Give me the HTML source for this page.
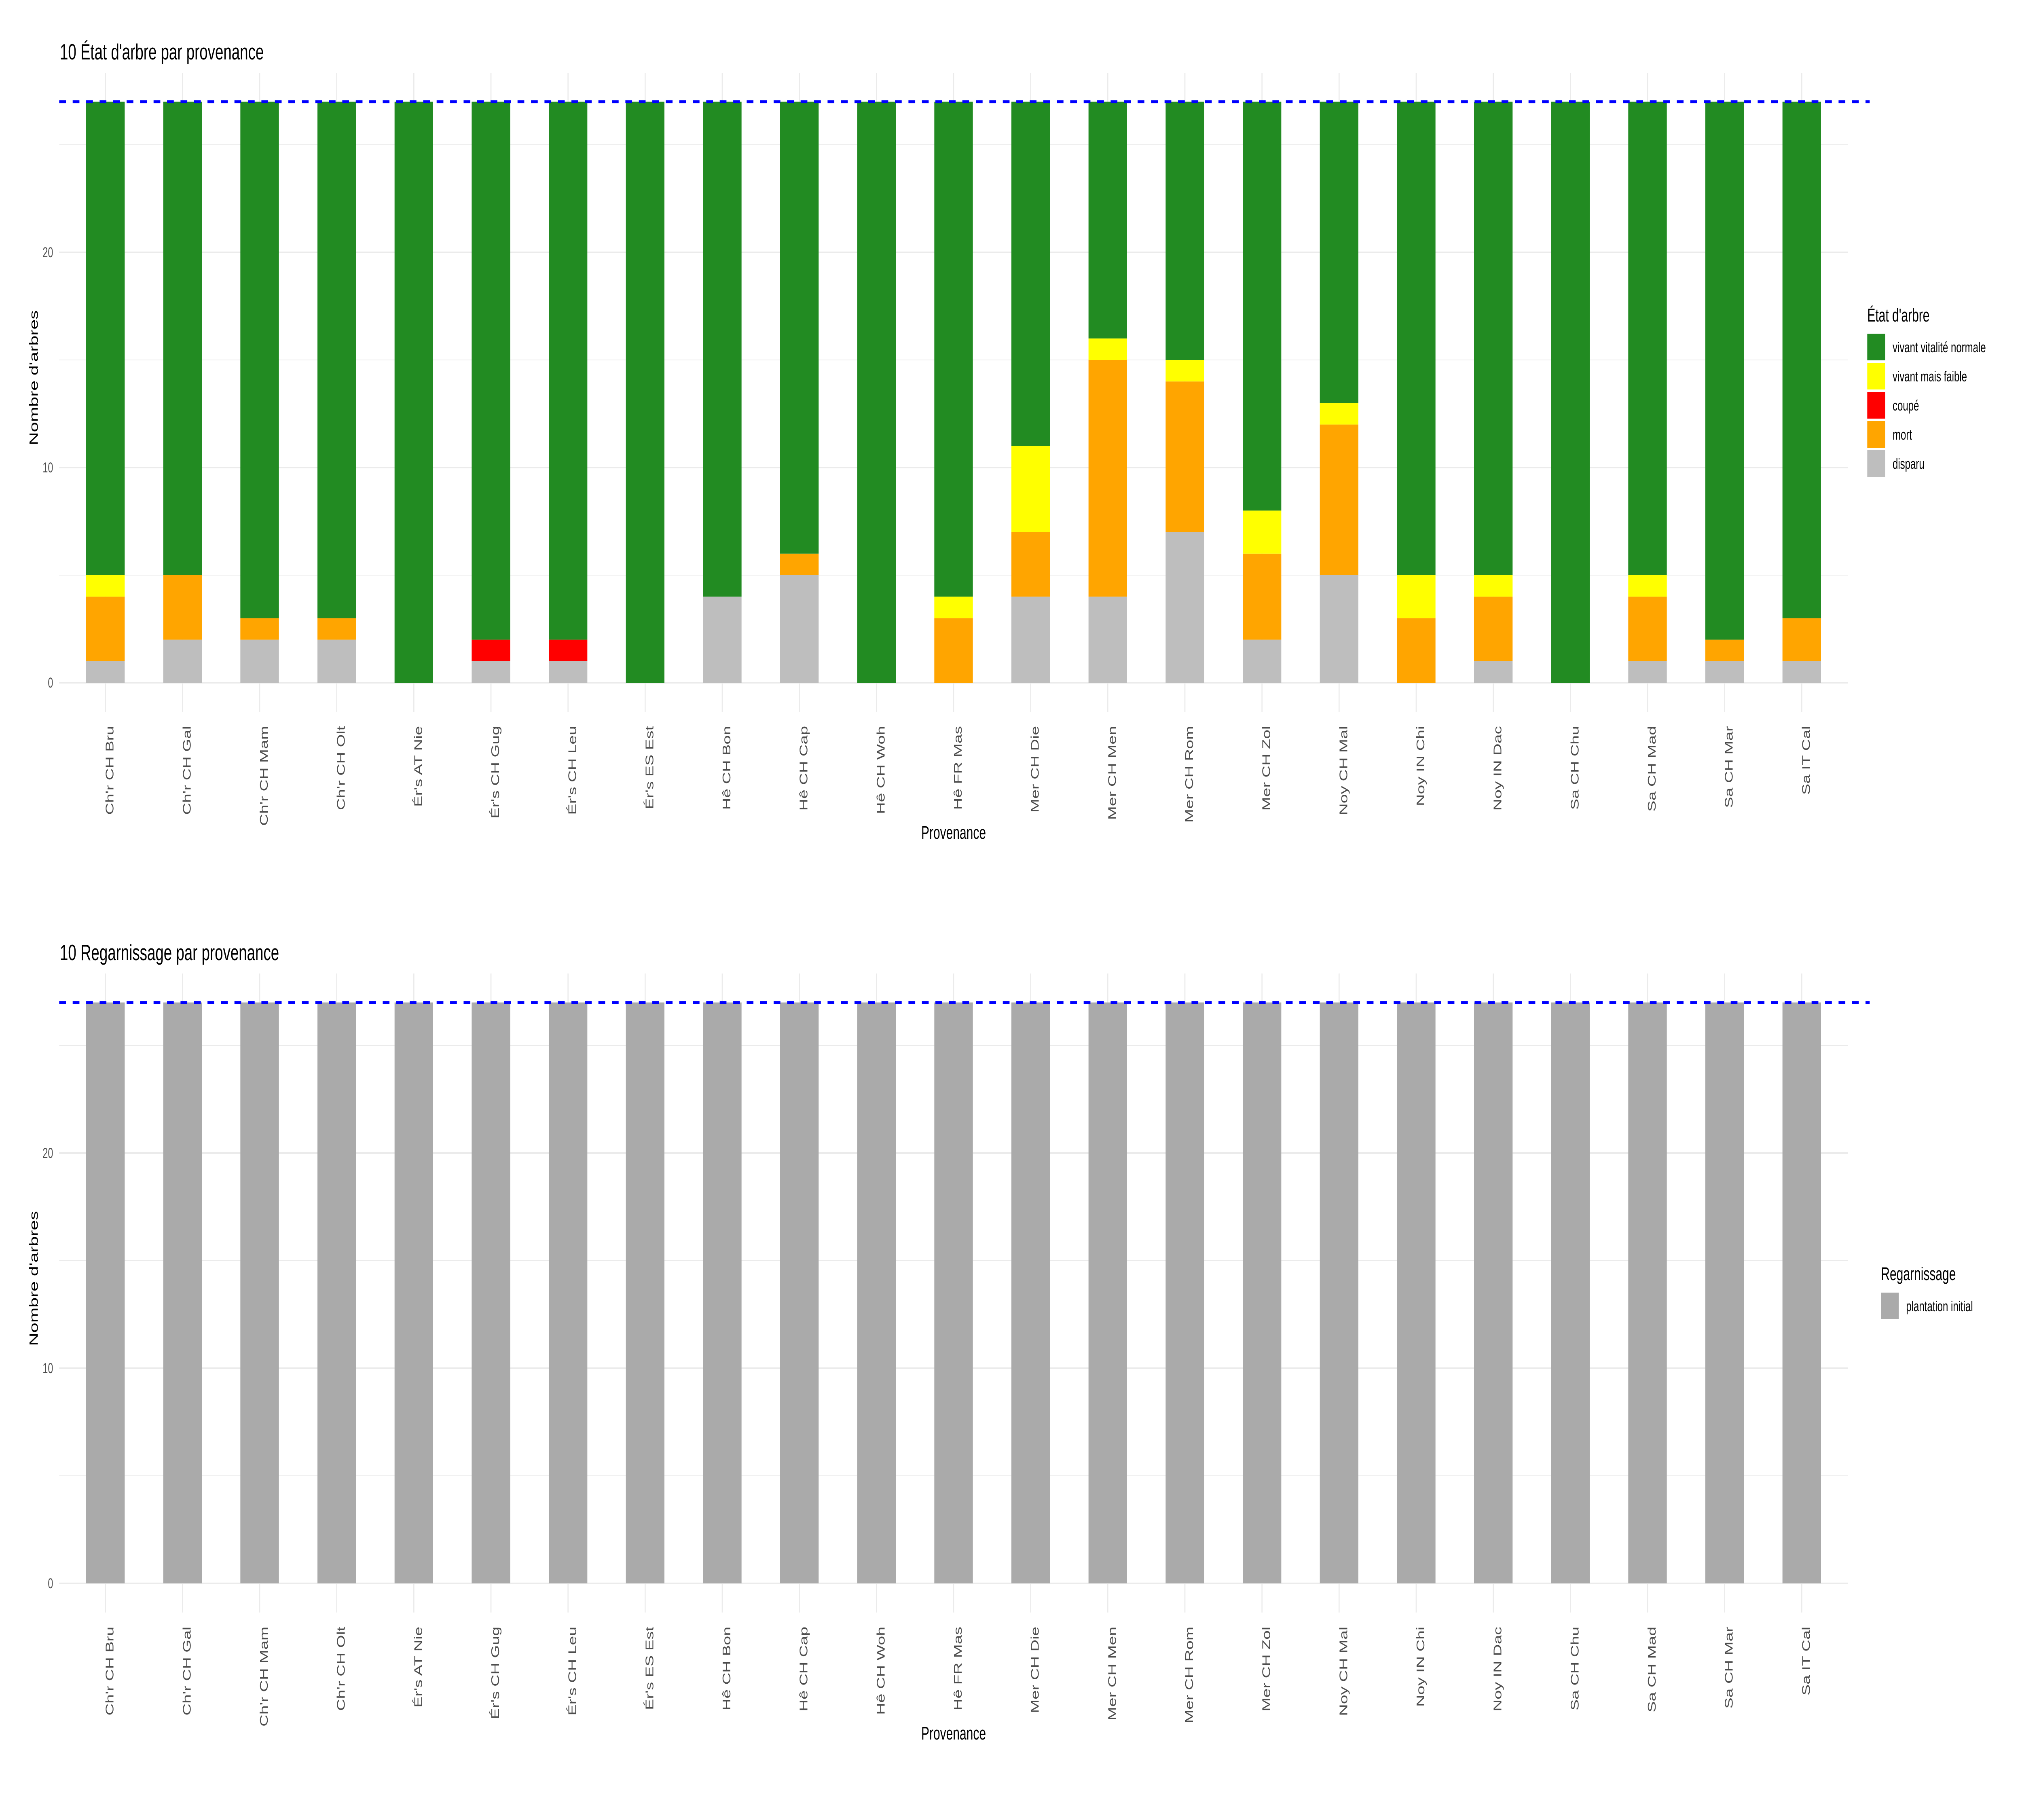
<!DOCTYPE html>
<html><head><meta charset="utf-8"><style>
html,body{margin:0;padding:0;background:#fff;width:100%;height:100%;overflow:hidden;}
svg{display:block;position:fixed;left:0;top:0;width:100vw;height:100vh;}
text{font-family:"Liberation Sans",sans-serif;}
</style></head><body>
<svg id="s" viewBox="0 0 7500 4500" preserveAspectRatio="none" xmlns="http://www.w3.org/2000/svg"></svg>
<script>
const S=document.getElementById('s');
const NS='http://www.w3.org/2000/svg';
function el(t,a,txt){const e=document.createElementNS(NS,t);for(const k in a)e.setAttribute(k,a[k]);if(txt!==undefined)e.textContent=txt;S.appendChild(e);return e;}
const labels=["Ch'r CH Bru","Ch'r CH Gal","Ch'r CH Mam","Ch'r CH Olt","Ér's AT Nie","Ér's CH Gug","Ér's CH Leu","Ér's ES Est","Hê CH Bon","Hê CH Cap","Hê CH Woh","Hê FR Mas","Mer CH Die","Mer CH Men","Mer CH Rom","Mer CH Zol","Noy CH Mal","Noy IN Chi","Noy IN Dac","Sa CH Chu","Sa CH Mad","Sa CH Mar","Sa IT Cal"];
const data=[[1,3,0,1],[2,3,0,0],[2,1,0,0],[2,1,0,0],[0,0,0,0],[1,0,1,0],[1,0,1,0],[0,0,0,0],[4,0,0,0],[5,1,0,0],[0,0,0,0],[0,3,0,1],[4,3,0,4],[4,11,0,1],[7,7,0,1],[2,4,0,2],[5,7,0,1],[0,3,0,2],[1,3,0,1],[0,0,0,0],[1,3,0,1],[1,1,0,0],[1,2,0,0]];
const cols=['#bebebe','#ffa500','#ff0000','#ffff00','#228b22'];
const L=219.6,R=6855,U=53.2,c0=391,sp=286,bw=143;
function panel(off,title,stacked){
  const z=1688+off, top=180+off;
  el('text',{x:222,y:147+off,'font-size':55,fill:'#000'},title);
  [5,15,25].forEach(v=>el('line',{x1:L,x2:R,y1:z-v*U,y2:z-v*U,stroke:'#ebebeb','stroke-width':2}));
  [0,10,20].forEach(v=>{el('line',{x1:L,x2:R,y1:z-v*U,y2:z-v*U,stroke:'#ebebeb','stroke-width':4});
    el('text',{x:197,y:z-v*U+12,'font-size':35,fill:'#4d4d4d','text-anchor':'end'},String(v));});
  for(let i=0;i<23;i++){const cx=c0+i*sp;
    el('line',{x1:cx,x2:cx,y1:top,y2:z+72,stroke:'#ebebeb','stroke-width':4});}
  for(let i=0;i<23;i++){const cx=c0+i*sp,x=cx-bw/2;
    if(stacked){let acc=0;const d=data[i];const vals=[d[0],d[1],d[2],d[3],27-d[0]-d[1]-d[2]-d[3]];
      vals.forEach((v,k)=>{if(v>0){el('rect',{x:x,y:z-(acc+v)*U,width:bw,height:v*U,fill:cols[k]});}acc+=v;});
    } else el('rect',{x:x,y:z-27*U,width:bw,height:27*U,fill:'#aaaaaa'});
    el('text',{x:0,y:0,'font-size':41,fill:'#4d4d4d','text-anchor':'end',transform:`translate(${cx+30},${z+107}) rotate(-90)`},labels[i]);
  }
  el('line',{x1:L,x2:R+80,y1:z-27*U,y2:z-27*U,stroke:'#0000ff','stroke-width':7,'stroke-dasharray':'25 25'});
  el('text',{x:3537,y:2074+off,'font-size':45,fill:'#000','text-anchor':'middle'},'Provenance');
  el('text',{x:0,y:0,'font-size':45,fill:'#000','text-anchor':'middle',transform:`translate(140,${(top+z)/2}) rotate(-90)`},"Nombre d'arbres");
}
panel(0,"10 État d'arbre par provenance",true);
panel(2227,"10 Regarnissage par provenance",false);
el('text',{x:6926,y:795,'font-size':45,fill:'#000'},"État d'arbre");
const ln=['vivant vitalité normale','vivant mais faible','coupé','mort','disparu'];
const lc=['#228b22','#ffff00','#ff0000','#ffa500','#bebebe'];
for(let k=0;k<5;k++){const y=825+k*72;
  el('rect',{x:6926,y:y,width:67,height:66,fill:lc[k]});
  el('text',{x:7020,y:y+46,'font-size':36,fill:'#000'},ln[k]);}
el('text',{x:6977,y:3165,'font-size':45,fill:'#000'},"Regarnissage");
el('rect',{x:6977,y:3196,width:66,height:66,fill:'#aaaaaa'});
el('text',{x:7070,y:3242,'font-size':36,fill:'#000'},'plantation initial');
</script>
</body></html>
